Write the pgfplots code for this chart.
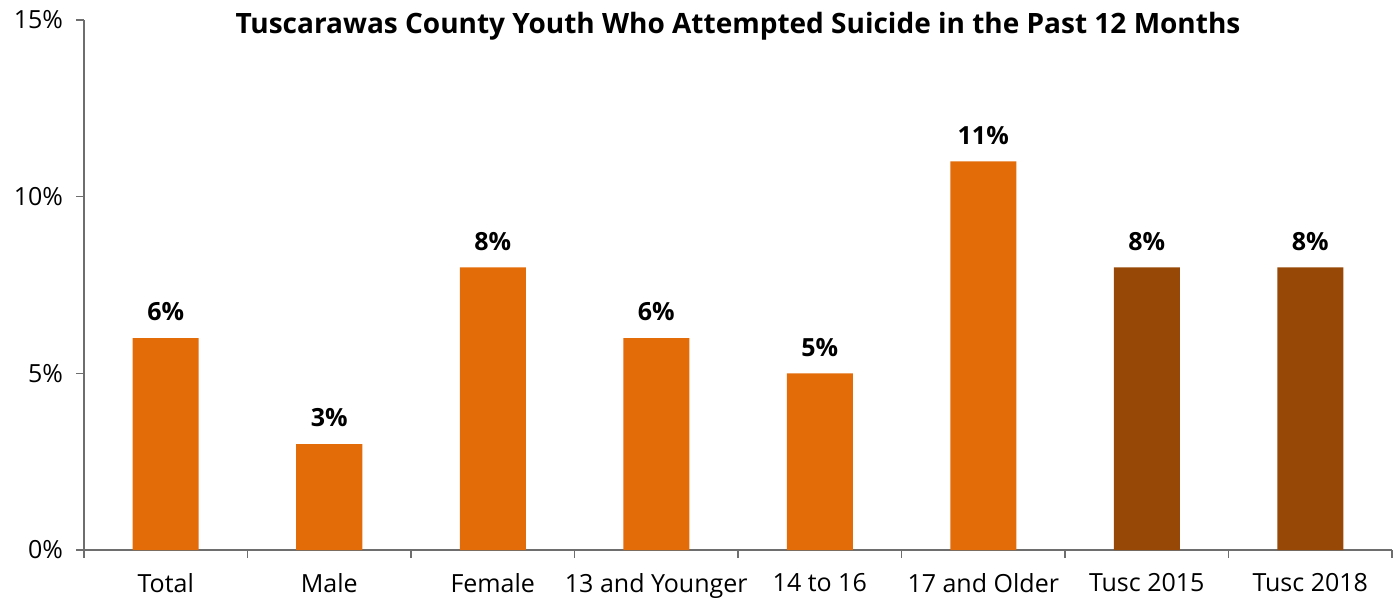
\documentclass[border=0pt]{standalone}
\usepackage{fontspec}
\setmainfont{Open Sans}
\usepackage{pgfplots}
\pgfplotsset{compat=1.18}
\definecolor{barorange}{HTML}{E36C09}
\definecolor{barbrown}{HTML}{974706}
\definecolor{axisgray}{HTML}{6E6E6E}
\begin{document}
\begin{tikzpicture}
\path[use as bounding box] (-42pt,-26pt) rectangle (658pt,275pt);
\begin{axis}[
  at={(0,0)}, anchor=south west,
  scale only axis, width=654pt, height=265pt,
  xmin=-0.5, xmax=7.5, ymin=0, ymax=15,
  axis x line*=bottom, axis y line*=left,
  axis line style={axisgray, line width=0.8pt},
  xtick={-0.5,0.5,...,7.5},
  x tick label as interval,
  xticklabels={Total,Male,Female,13 and Younger,14 to 16,17 and Older,Tusc 2015,Tusc 2018},
  ytick={0,5,10,15},
  yticklabel={\pgfmathprintnumber{\tick}\%},
  /pgf/number format/assume math mode=true,
  tick align=outside, major tick length=4pt,
  tick style={axisgray, line width=0.8pt},
  ticklabel style={font=\fontsize{12.5}{15}\selectfont, text=black},
  xticklabel style={yshift=-4pt},
  yticklabel style={xshift=-3pt},
  ybar, bar width=33pt, bar shift=0pt,
  nodes near coords={\pgfmathprintnumber{\pgfplotspointmeta}\%},
  nodes near coords style={font=\fontsize{12.5}{15}\selectfont\bfseries, text=black, yshift=5pt},
  clip=false,
]
\addplot[fill=barorange, draw=none] coordinates {(0,6) (1,3) (2,8) (3,6) (4,5) (5,11)};
\addplot[fill=barbrown, draw=none] coordinates {(6,8) (7,8)};
\node[font=\fontsize{14}{17}\selectfont\bfseries, anchor=center] at (rel axis cs:0.5,1) [yshift=-3pt] {Tuscarawas County Youth Who Attempted Suicide in the Past 12 Months};
\end{axis}
\end{tikzpicture}
\end{document}
